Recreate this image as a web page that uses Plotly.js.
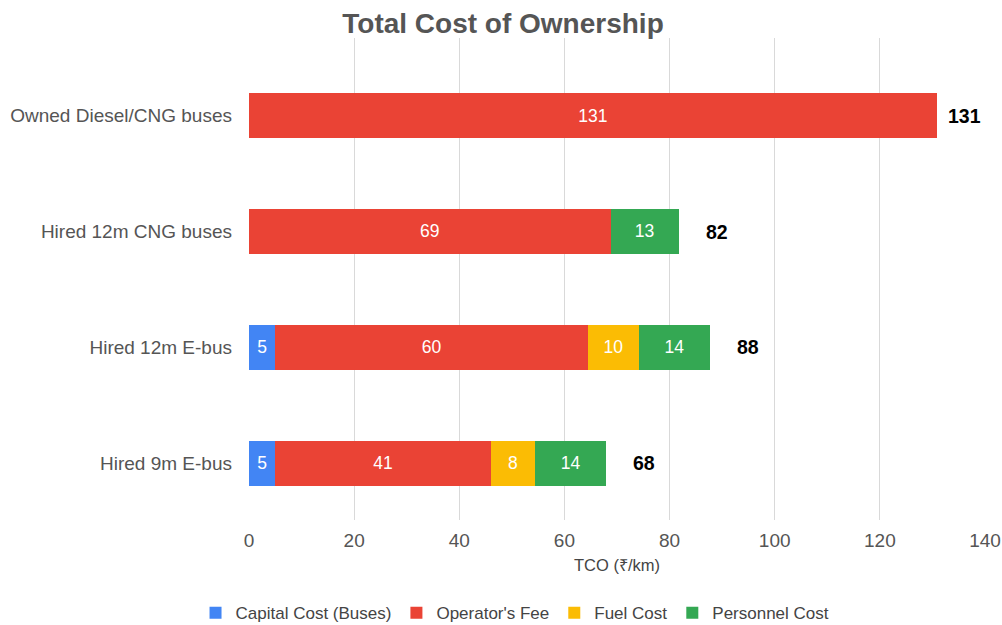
<!DOCTYPE html>
<html>
<head>
<meta charset="utf-8">
<script src="https://cdn.plot.ly/plotly-3.0.1.min.js"></script>
<style>html,body{margin:0;padding:0;background:#fff}#chart{width:1002px;height:625px}</style>
</head>
<body>
<div id="chart"></div>
<script>
const categories = ["Hired 9m E-bus", "Hired 12m E-bus", "Hired 12m CNG buses", "Owned Diesel/CNG buses"];
const capitalCost = [5.0, 5.0, null, null];
const operatorsFee = [41.0, 59.5, 68.8, 130.8];
const fuelCost = [8.4, 9.6, null, null];
const personnelCost = [13.6, 13.6, 12.9, null];
const seriesNames = ["Capital Cost (Buses)", "Operator's Fee", "Fuel Cost", "Personnel Cost"];
const seriesColors = ["#4285F4", "#EA4335", "#FBBC04", "#34A853"];
const xTicks = [0, 20, 40, 60, 80, 100, 120, 140];

const allSeries = [capitalCost, operatorsFee, fuelCost, personnelCost];
const totals = categories.map((c, i) => allSeries.reduce((s, arr) => s + (arr[i] || 0), 0));

const FONT = "Liberation Sans, Arial, sans-serif";
const traces = allSeries.map((vals, k) => ({
  type: "bar",
  orientation: "h",
  name: seriesNames[k],
  y: categories,
  x: vals,
  width: 0.39,
  marker: {color: seriesColors[k], line: {width: 0}},
  texttemplate: "%{x:.0f}",
  textposition: "inside",
  insidetextanchor: "middle",
  textangle: 0,
  insidetextfont: {color: "#ffffff", size: 17.5, family: FONT},
  hoverinfo: "x+name"
}));

const maxTotal = Math.max(...totals);
const annotations = totals.map((t, i) => ({
  x: t, y: categories[i], xref: "x", yref: "y",
  text: "<b>" + Math.round(t) + "</b>",
  showarrow: false, xanchor: "left",
  xshift: t === maxTotal ? 9 : 25,
  font: {size: 19.5, color: "#000000", family: FONT}
}));

const layout = {
  width: 1002, height: 625,
  margin: {l: 249, r: 17, t: 38, b: 105},
  paper_bgcolor: "#ffffff", plot_bgcolor: "#ffffff",
  barmode: "stack",
  bargap: 0.6,
  title: {text: "<b>Total Cost of Ownership</b>", x: 0.502, xref: "container", xanchor: "center", y: 0.963, yref: "container", yanchor: "middle",
          font: {size: 28, color: "#555555", family: FONT}},
  xaxis: {
    range: [0, 140], tickvals: xTicks, ticktext: xTicks.map(String),
    showgrid: true, gridcolor: "#d9d9d9", gridwidth: 1,
    zeroline: false, showline: false, ticks: "",
    ticklabelstandoff: 7,
    tickfont: {size: 19, color: "#555555", family: FONT},
    title: {text: "TCO (₹/km)", standoff: 9, font: {size: 16.5, color: "#444444", family: FONT}},
    fixedrange: true
  },
  yaxis: {
    type: "category", categoryorder: "array", categoryarray: categories,
    range: [-0.49, 3.67],
    showgrid: false, zeroline: false, showline: false, ticks: "",
    ticklabelstandoff: 16,
    tickfont: {size: 19, color: "#555555", family: FONT},
    fixedrange: true
  },
  legend: {
    orientation: "h", x: 0.514, xref: "container", xanchor: "center",
    y: 0.019, yref: "container", yanchor: "middle",
    font: {size: 17, color: "#444444", family: FONT},
    itemwidth: 30, traceorder: "normal"
  },
  annotations: annotations,
  showlegend: true
};

Plotly.newPlot("chart", traces, layout, {displayModeBar: false, staticPlot: true});
</script>
</body>
</html>
